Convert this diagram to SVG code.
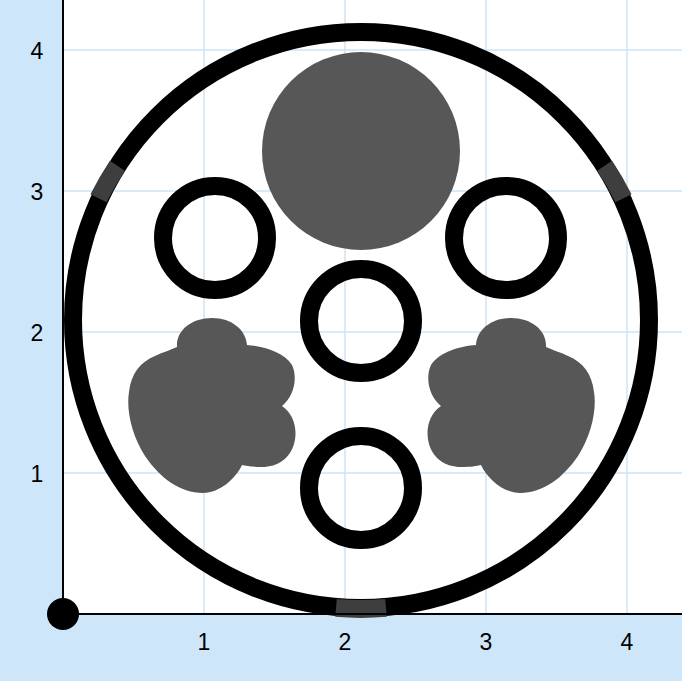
<svg xmlns="http://www.w3.org/2000/svg" width="682" height="681" viewBox="0 0 682 681">
<defs>
<style>
.grid{stroke:#cfe3f7;stroke-width:1.5;fill:none}
.axis{stroke:#000;stroke-width:2;fill:none}
.lbl{font-family:"Liberation Sans",Arial,sans-serif;font-size:23px;fill:#000;text-anchor:middle}
.ring{fill:none;stroke:#000;stroke-width:18}
.patch{fill:none;stroke:#3e3e3e;stroke-width:18}
.solid{fill:#575757}
</style>
<path id="blobShape" d="M177,347 C176,330 192,318 212,318 C232,318 246,330 247,345 C262,346 284,352 292,365 C298,378 294,396 282,406 C294,414 298,430 294,444 C290,458 278,467 262,467 C252,467 246,466 242,465 C236,478 220,493 203,493 C180,493 160,478 145,456 C132,436 126,410 129,392 C131,374 140,362 155,356 C163,352 171,350 177,347 Z"/>
</defs>
<rect x="0" y="0" width="682" height="681" fill="#cde6fa"/>
<rect x="63" y="0" width="619" height="614" fill="#ffffff"/>
<g id="grid">
<line class="grid" x1="204" y1="0" x2="204" y2="614"/>
<line class="grid" x1="345" y1="0" x2="345" y2="614"/>
<line class="grid" x1="486" y1="0" x2="486" y2="614"/>
<line class="grid" x1="627" y1="0" x2="627" y2="614"/>
<line class="grid" x1="63" y1="473" x2="682" y2="473"/>
<line class="grid" x1="63" y1="332" x2="682" y2="332"/>
<line class="grid" x1="63" y1="191" x2="682" y2="191"/>
<line class="grid" x1="63" y1="50" x2="682" y2="50"/>
</g>
<g id="labels">
<text class="lbl" x="37" y="59">4</text>
<text class="lbl" x="37" y="200">3</text>
<text class="lbl" x="37" y="341">2</text>
<text class="lbl" x="37" y="482">1</text>
<text class="lbl" x="204" y="650">1</text>
<text class="lbl" x="345" y="650">2</text>
<text class="lbl" x="486" y="650">3</text>
<text class="lbl" x="627" y="650">4</text>
</g>
<g id="outer-ring">
<circle class="ring" cx="361" cy="320" r="288"/>
<path class="patch" d="M336,607.9 A288,288 0 0 0 386,607.9"/>
<path class="patch" d="M604.6,165.7 A288,288 0 0 1 623.5,198.3"/>
<path class="patch" d="M117.4,165.7 A288,288 0 0 0 98.5,198.3"/>
</g>
<g id="top-disc"><circle class="solid" cx="361" cy="151" r="99"/></g>
<g id="ring-left"><circle class="ring" cx="215" cy="238" r="52"/></g>
<g id="ring-right"><circle class="ring" cx="506" cy="238" r="52"/></g>
<g id="ring-center"><circle class="ring" cx="361" cy="321" r="52"/></g>
<g id="ring-bottom"><circle class="ring" cx="361" cy="488" r="52"/></g>
<g id="blob-left"><use href="#blobShape" class="solid"/></g>
<g id="blob-right"><use href="#blobShape" class="solid" transform="translate(723,0) scale(-1,1)"/></g>
<g id="connectors">
<line class="axis" x1="63" y1="0" x2="63" y2="614"/>
<line class="axis" x1="63" y1="614" x2="682" y2="614"/>
<circle cx="63" cy="614" r="16" fill="#000"/>
</g>
</svg>
